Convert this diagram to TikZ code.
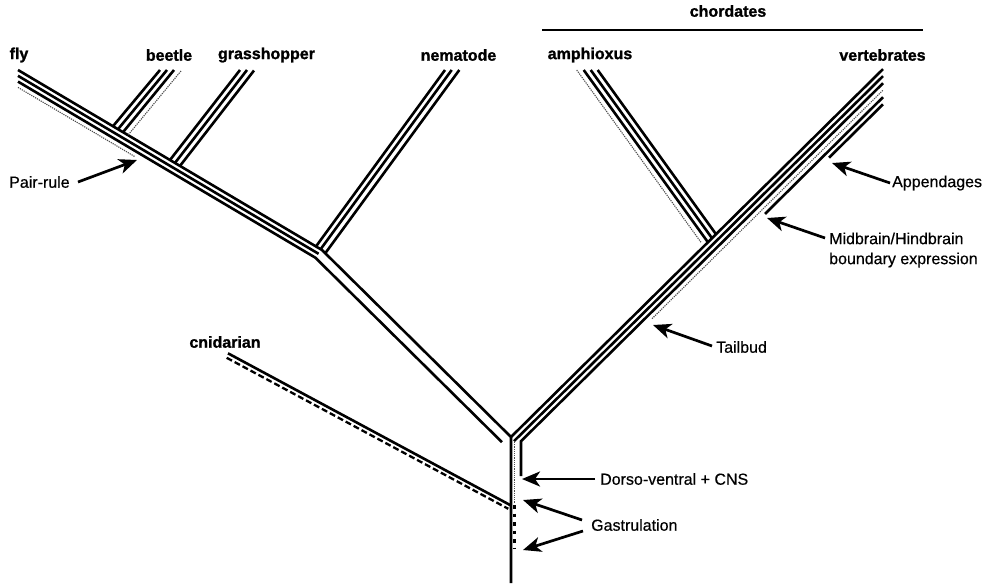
\documentclass[tikz,border=0pt]{standalone}
\usepackage{fontspec}
\setmainfont{Liberation Sans}[BoldFeatures={FakeBold=1.3}]
\newfontfamily\notefont{Liberation Sans}[FakeBold=0.5]
\usetikzlibrary{arrows.meta}
\begin{document}
\begin{tikzpicture}[x=1pt,y=-1pt,
  br/.style={line width=2.6pt, line join=miter},
  fdot/.style={line width=1.1pt, black!70, dash pattern=on 1.2pt off 1pt},
  cdash/.style={line width=2.3pt, dash pattern=on 6pt off 3pt},
  tdash/.style={line width=2.3pt, dash pattern=on 3.5pt off 5pt},
  arr/.style={line width=2.7pt, -{Stealth[length=18pt,width=15pt,inset=5pt]}},
  taxon/.style={font=\bfseries\fontsize{16}{18}\selectfont, inner sep=0pt},
  note/.style={font=\notefont\fontsize{16}{20}\selectfont, inner sep=0pt, anchor=west, align=left},
]
\useasboundingbox (0,0) rectangle (990,587);

% ---- key points
\coordinate (B) at (511,583);
\coordinate (A) at (511,437);
\coordinate (N) at (322,250);
\coordinate (F0) at (18,70);
\coordinate (V0) at (883,69.1);

% ---- main line
\draw[br] (F0) -- (N) -- (A) -- (B);
\draw[br] (A) -- (V0);

% ---- fly arm and left arm
\coordinate (F1) at (18,75.8);   \coordinate (F1e) at (318.6,253.8);
\coordinate (F2) at (18,81.6);   \coordinate (F2k) at (315.4,257.7); \coordinate (L2e) at (502,442.2);
\coordinate (F3) at (18,87.4);   \coordinate (F3e) at (135,156.7);
\draw[br] (F1) -- (F1e);
\draw[br] (F2) -- (F2k) -- (L2e);
\draw[fdot] (F3) -- (F3e);

% ---- nematode
\coordinate (Nt0) at (445,70);   \coordinate (Nb0) at (316,246.4);
\coordinate (Nt1) at (451.7,70); \coordinate (Nb1) at (320.7,249.1);
\coordinate (Nt2) at (459.3,70); \coordinate (Nb2) at (325.3,253.2);
\draw[br] (Nt0) -- (Nb0);
\draw[br] (Nt1) -- (Nb1);
\draw[br] (Nt2) -- (Nb2);

% ---- beetle
\coordinate (Bt0) at (160,70);   \coordinate (Bb0) at (113,126.2);
\coordinate (Bt1) at (167,70);   \coordinate (Bb1) at (118,129.2);
\coordinate (Bt2) at (174,70);   \coordinate (Bb2) at (123,132.2);
\coordinate (Bt3) at (181,71);   \coordinate (Bb3) at (128,135.1);
\draw[br] (Bt0) -- (Bb0);
\draw[br] (Bt1) -- (Bb1);
\draw[br] (Bt2) -- (Bb2);
\draw[fdot] (Bt3) -- (Bb3);

% ---- grasshopper
\coordinate (Gt0) at (240,70);   \coordinate (Gb0) at (170,160);
\coordinate (Gt1) at (247,70);   \coordinate (Gb1) at (175,162.9);
\coordinate (Gt2) at (254,70.5); \coordinate (Gb2) at (180,165.9);
\draw[br] (Gt0) -- (Gb0);
\draw[br] (Gt1) -- (Gb1);
\draw[br] (Gt2) -- (Gb2);

% ---- right (chordate) arm
\coordinate (R1s) at (514,441.1); \coordinate (V1) at (883,76.1);
\coordinate (DVb) at (521,476);   \coordinate (DVk) at (521,441.2); \coordinate (V2) at (883,83.2);
\coordinate (R3s) at (652,318.7); \coordinate (V3) at (883,90.2);
\coordinate (R4s) at (765,213.9); \coordinate (V4) at (883,97.2);
\coordinate (R5s) at (829,157.7); \coordinate (V5) at (883,104.3);
\draw[br] (R1s) -- (V1);
\draw[br] (DVb) -- (DVk) -- (V2);
\draw[fdot] (R3s) -- (V3);
\draw[br] (R4s) -- (V4);
\draw[br] (R5s) -- (V5);

% ---- amphioxus
\coordinate (At0) at (597.7,70); \coordinate (Ab0) at (716,234.2);
\coordinate (At1) at (590.7,70); \coordinate (Ab1) at (712,238.2);
\coordinate (At2) at (583.7,70); \coordinate (Ab2) at (707.9,242.2);
\coordinate (At3) at (576.7,70); \coordinate (Ab3) at (700.9,242.2);
\draw[br] (At0) -- (Ab0);
\draw[br] (At1) -- (Ab1);
\draw[br] (At2) -- (Ab2);
\draw[fdot] (At3) -- (Ab3);

% ---- trunk extras
\coordinate (Td1) at (514.5,442);   \coordinate (Td2) at (514.5,503);
\coordinate (Tg1) at (514.5,505); \coordinate (Tg2) at (514.5,548);
\draw[fdot] (Td1) -- (Td2);
\draw[tdash] (Tg1) -- (Tg2);

% ---- cnidarian
\coordinate (Cs) at (228,353.3);  \coordinate (Ce) at (511,505.5);
\coordinate (Cds) at (226.7,357.8); \coordinate (Cde) at (508.3,508.8);
\draw[br] (Cs) -- (Ce);
\draw[cdash] (Cds) -- (Cde);

% ---- chordates bar
\coordinate (Ch1) at (542,30); \coordinate (Ch2) at (923,30);
\draw[line width=1.6pt] (Ch1) -- (Ch2);

% ---- taxon labels
\node[taxon] (lfly) at (19,55) {fly};
\node[taxon] (lbee) at (169,55) {beetle};
\node[taxon] (lgra) at (266.5,55) {grasshopper};
\node[taxon] (lnem) at (458.5,55) {nematode};
\node[taxon] (lamp) at (590,55) {amphioxus};
\node[taxon] (lver) at (882.5,55) {vertebrates};
\node[taxon] (lcho) at (728,11) {chordates};
\node[taxon] (lcni) at (225,342) {cnidarian};

% ---- annotations
\node[note] (tpr) at (9,182) {Pair-rule};
\node[note] (tdv) at (600,479) {Dorso-ventral + CNS};
\node[note] (tga) at (591,525) {Gastrulation};
\node[note] (ttb) at (716,347) {Tailbud};
\node[note] (tmh) at (829,250) {Midbrain/Hindbrain\\boundary expression};
\node[note] (tap) at (892,183) {Appendages};

\coordinate (prT) at (78,182);  \coordinate (prH) at (137,160);
\coordinate (dvT) at (595,479); \coordinate (dvH) at (522,479);
\coordinate (g1T) at (582,520); \coordinate (g1H) at (523,500);
\coordinate (g2T) at (583,531); \coordinate (g2H) at (523,550);
\coordinate (tbT) at (712,346); \coordinate (tbH) at (653,325);
\coordinate (mhT) at (825,238); \coordinate (mhH) at (767,218);
\coordinate (apT) at (890,183); \coordinate (apH) at (832,163);
\draw[arr] (prT) -- (prH);
\draw[arr] (dvT) -- (dvH);
\draw[arr] (g1T) -- (g1H);
\draw[arr] (g2T) -- (g2H);
\draw[arr] (tbT) -- (tbH);
\draw[arr] (mhT) -- (mhH);
\draw[arr] (apT) -- (apH);
\end{tikzpicture}
\end{document}
